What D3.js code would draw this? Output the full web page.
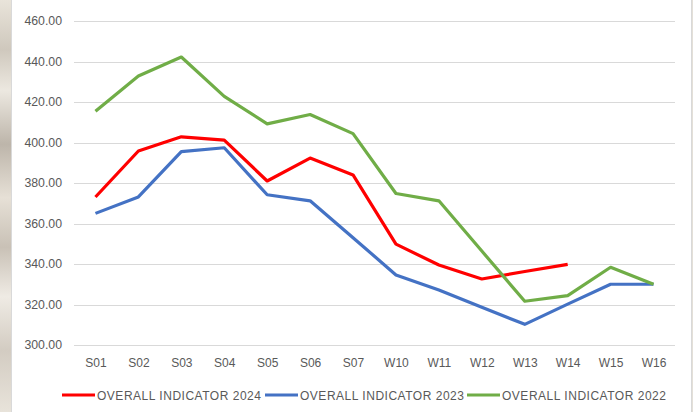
<!DOCTYPE html>
<html>
<head>
<meta charset="utf-8">
<script src="https://cdnjs.cloudflare.com/ajax/libs/d3/7.8.5/d3.min.js"></script>
<style>
  body { margin: 0; background: #fff; }
  svg { display: block; }
</style>
</head>
<body>
<div id="chart"></div>
<script>
// categories on the x axis
var weeks = ["S01", "S02", "S03", "S04", "S05", "S06", "S07",
             "W10", "W11", "W12", "W13", "W14", "W15", "W16"];

// series values
var values2024 = [373.1, 395.8, 402.8, 401.2, 381.0, 392.3, 384.0,
                  349.8, 339.5, 332.6, 336.3, 339.8];
var values2023 = [365.0, 373.1, 395.5, 397.4, 374.2, 371.2, 353.0,
                  334.6, 327.2, 318.6, 310.2, 320.2, 330.0, 330.0];
var values2022 = [415.4, 432.8, 442.2, 422.8, 409.2, 413.8, 404.4,
                  374.8, 371.2, 346.4, 321.6, 324.4, 338.4, 330.0];

var yTicks = [300, 320, 340, 360, 380, 400, 420, 440, 460];
var seriesNames = ["OVERALL INDICATOR 2024", "OVERALL INDICATOR 2023", "OVERALL INDICATOR 2022"];
var seriesColors = ["#FF0000", "#4472C4", "#70AD47"];

function draw_function() {
    var W = 693, H = 412;
    var svg = d3.select("#chart").append("svg")
        .attr("width", W).attr("height", H);

    // marble-ish strip on the left, behind the white chart area
    var defs = svg.append("defs");
    var grad = defs.append("linearGradient").attr("id", "marble")
        .attr("x1", 0).attr("x2", 0).attr("y1", 0).attr("y2", 1);
    [["0%", "#e9e4da"], ["12%", "#cfc8bd"], ["22%", "#ece8e0"], ["35%", "#bdb5aa"],
     ["48%", "#e6e0d6"], ["60%", "#c9c1b6"], ["72%", "#efebe4"], ["85%", "#d3ccc2"],
     ["100%", "#e8e3da"]].forEach(function(s) {
        grad.append("stop").attr("offset", s[0]).attr("stop-color", s[1]);
    });
    svg.append("rect").attr("x", 0).attr("y", 0).attr("width", 12).attr("height", H)
        .attr("fill", "url(#marble)");
    svg.append("rect").attr("x", 691).attr("y", 0).attr("width", 2).attr("height", H)
        .attr("fill", "#e4e0d8");

    // white chart panel with thin border
    svg.append("rect").attr("x", 11.5).attr("y", -1).attr("width", 680).attr("height", H + 2)
        .attr("fill", "#fff").attr("stroke", "#d9d9d9").attr("stroke-width", 1);

    var margin = {left: 74, right: 18, top: 21, bottom: 67};
    var x = d3.scalePoint().domain(weeks)
        .range([margin.left, W - margin.right]).padding(0.5);
    var y = d3.scaleLinear().domain([300, 460])
        .range([H - margin.bottom, margin.top]);

    // gridlines
    svg.append("g").selectAll("line").data(yTicks).enter().append("line")
        .attr("x1", margin.left).attr("x2", W - margin.right)
        .attr("y1", function(d) { return Math.round(y(d)) + 0.5; })
        .attr("y2", function(d) { return Math.round(y(d)) + 0.5; })
        .attr("stroke", "#d9d9d9").attr("stroke-width", 1);

    // y axis labels
    var yAxis = d3.axisLeft(y).tickValues(yTicks).tickSize(0).tickPadding(12)
        .tickFormat(d3.format(".2f"));
    var gy = svg.append("g").attr("transform", "translate(" + margin.left + ",0)").call(yAxis);
    gy.select(".domain").remove();
    gy.selectAll("text").attr("fill", "#595959")
        .style("font-family", "'Liberation Sans', Arial, sans-serif").style("font-size", "12.3px");

    // x axis labels
    var xAxis = d3.axisBottom(x).tickSize(0).tickPadding(13);
    var gx = svg.append("g").attr("transform", "translate(0," + (H - margin.bottom) + ")").call(xAxis);
    gx.select(".domain").remove();
    gx.selectAll("text").attr("fill", "#595959")
        .style("font-family", "'Liberation Sans', Arial, sans-serif").style("font-size", "12px");

    // lines
    var line = d3.line()
        .x(function(d, i) { return x(weeks[i]); })
        .y(function(d) { return y(d); });
    [values2024, values2023, values2022].forEach(function(vals, i) {
        svg.append("path").datum(vals)
            .attr("d", line)
            .attr("fill", "none")
            .attr("stroke", seriesColors[i])
            .attr("stroke-width", 3.2)
            .attr("stroke-linejoin", "round");
    });

    // legend
    var legendX = [62, 265, 467];
    var leg = svg.append("g").selectAll("g").data(seriesNames).enter().append("g")
        .attr("transform", function(d, i) { return "translate(" + legendX[i] + ",395)"; });
    leg.append("line").attr("x1", 0).attr("x2", 33).attr("y1", 0).attr("y2", 0)
        .attr("stroke", function(d, i) { return seriesColors[i]; }).attr("stroke-width", 3.2);
    leg.append("text").attr("x", 35).attr("y", 4.5)
        .attr("fill", "#595959")
        .attr("textLength", 164).attr("lengthAdjust", "spacing")
        .style("font-family", "'Liberation Sans', Arial, sans-serif").style("font-size", "12px")
        .text(function(d) { return d; });
}

window.onload = draw_function;
</script>
</body>
</html>
